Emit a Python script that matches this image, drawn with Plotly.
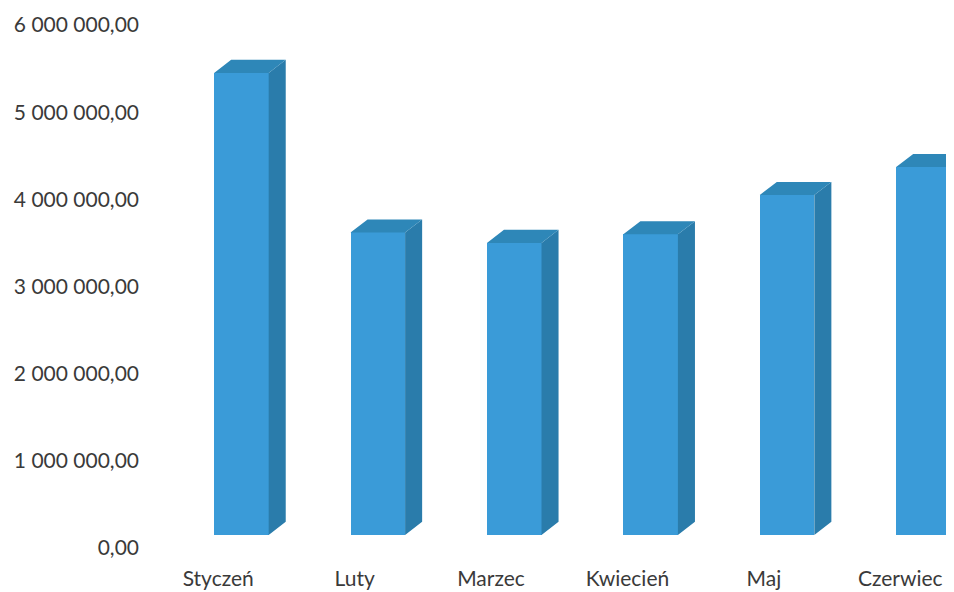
import plotly.graph_objects as go

# ---- data ----
months = ["Styczeń", "Luty", "Marzec", "Kwiecień", "Maj", "Czerwiec"]
values = [5300000, 3470000, 3350000, 3450000, 3900000, 4220000]
y_tick_values = [0, 1000000, 2000000, 3000000, 4000000, 5000000, 6000000]
y_tick_labels = ["0,00", "1 000 000,00", "2 000 000,00", "3 000 000,00",
                 "4 000 000,00", "5 000 000,00", "6 000 000,00"]

# ---- pseudo-3D styling (in axis units) ----
bar_offset = 0.17      # bar front face shifted right of category label
bar_w = 0.40           # front face width
depth_x = 0.125        # depth projection, x
depth_y = 150000       # depth projection, y
base_lift = 150000     # bars stand on the floor behind the axis front edge

front_col = "#3a9bd8"
side_col = "#2a7cab"
top_col = "#2e87b8"

xc = [i + bar_offset for i in range(len(months))]

side_x, side_y, top_x, top_y = [], [], [], []
for c, v in zip(xc, values):
    r = c + bar_w / 2
    l = c - bar_w / 2
    t = base_lift + v
    side_x += [r, r + depth_x, r + depth_x, r, r, None]
    side_y += [base_lift, base_lift + depth_y, t + depth_y, t, base_lift, None]
    top_x += [l, l + depth_x, r + depth_x, r, l, None]
    top_y += [t, t + depth_y, t + depth_y, t, t, None]

fig = go.Figure()
fig.add_trace(go.Scatter(x=side_x, y=side_y, fill="toself", mode="lines",
                         line=dict(width=0, color=side_col), fillcolor=side_col,
                         hoverinfo="skip", showlegend=False))
fig.add_trace(go.Scatter(x=top_x, y=top_y, fill="toself", mode="lines",
                         line=dict(width=0, color=top_col), fillcolor=top_col,
                         hoverinfo="skip", showlegend=False))
fig.add_trace(go.Bar(x=xc, y=values, base=base_lift, width=bar_w,
                     marker=dict(color=front_col, line=dict(width=0)),
                     showlegend=False))

fig.update_layout(
    width=946, height=584,
    margin=dict(l=142, r=0, t=17, b=44),
    paper_bgcolor="white", plot_bgcolor="white",
    font=dict(family="Lato, 'Open Sans', sans-serif", size=21, color="#3a3a3a"),
    xaxis=dict(range=[-0.5, 5.394], tickvals=list(range(len(months))), ticktext=months,
               showgrid=False, zeroline=False, showline=False, ticks="",
               ticklabelstandoff=16),
    yaxis=dict(range=[0, 6000000], tickvals=y_tick_values, ticktext=y_tick_labels,
               showgrid=False, zeroline=False, showline=False, ticks="",
               ticklabelstandoff=10),
    bargap=0,
)

fig.write_html("out.html")
